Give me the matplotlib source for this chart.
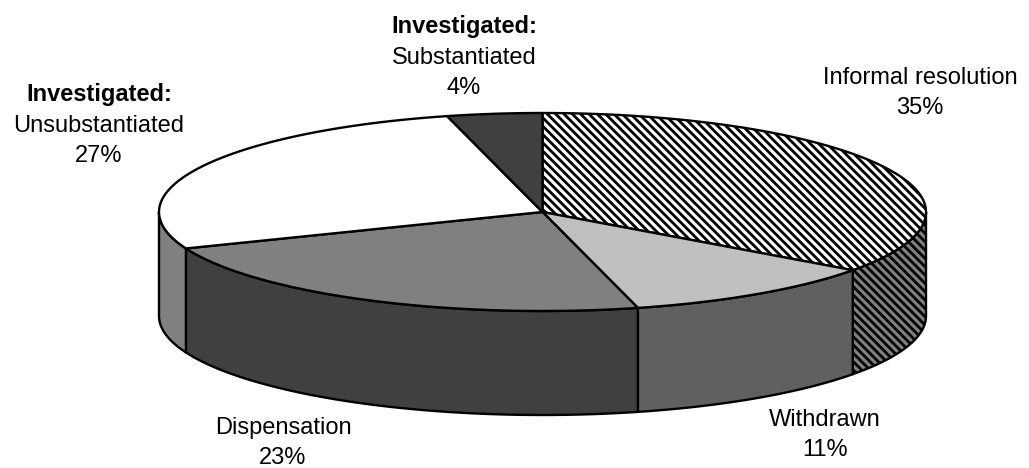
import numpy as np
import matplotlib
matplotlib.use("Agg")
import matplotlib.pyplot as plt
from matplotlib.patches import Polygon

# ===============================
# Data
# ===============================

labels = ["Informal resolution", "Withdrawn", "Dispensation",
          "Unsubstantiated", "Substantiated"]
prefix = ["", "", "", "Investigated:", "Investigated:"]
shares = [35, 11, 23, 27, 4]

top_colors = ["#ffffff", "#c0c0c0", "#808080", "#ffffff", "#404040"]
side_colors = ["#808080", "#606060", "#404040", "#808080", "#202020"]
hatches = ["\\\\\\\\", None, None, None, None]

# label text centres (pixels)
label_pos = [(920, 78), (825, 420), (283, 428), (99, 95), (464, 27)]

# ===============================
# Geometry of the 3D pie
# ===============================

cx, cy = 542.5, 212
ra, rb = 383.5, 99
depth = 104

plt.rcParams['font.family'] = ['Liberation Sans', 'DejaVu Sans']
plt.rcParams['hatch.linewidth'] = 2.0

fig = plt.figure(figsize=(10.29, 4.68), dpi=100)
ax = fig.add_axes([0, 0, 1, 1])
ax.set_xlim(0, 1029)
ax.set_ylim(468, 0)
ax.axis('off')


def arc(t1, t2, dy=0, n=80):
    t = np.radians(np.linspace(t1, t2, n))
    return np.column_stack([cx + ra * np.sin(t), cy - rb * np.cos(t) + dy])


bounds = np.concatenate([[0], np.cumsum(shares)]) / sum(shares) * 360

# side walls (only front half visible: 90..270 deg)
for i in range(len(shares)):
    t1 = max(bounds[i], 90)
    t2 = min(bounds[i + 1], 270)
    if t2 <= t1:
        continue
    pts = np.vstack([arc(t1, t2), arc(t2, t1, depth)])
    ax.add_patch(Polygon(pts, closed=True, facecolor=side_colors[i],
                         edgecolor='black', linewidth=1.7,
                         hatch=hatches[i], joinstyle='round'))

# top faces
for i in range(len(shares)):
    pts = np.vstack([[cx, cy], arc(bounds[i], bounds[i + 1])])
    ax.add_patch(Polygon(pts, closed=True, facecolor=top_colors[i],
                         edgecolor='black', linewidth=1.7,
                         hatch=hatches[i], joinstyle='round'))

# ===============================
# Labels
# ===============================

fs = 17
step = 30.5
for i in range(len(shares)):
    x, y = label_pos[i]
    if prefix[i]:
        ax.text(x, y, prefix[i], ha='center', va='center',
                fontsize=fs, fontweight='bold')
        y += step
    ax.text(x, y, labels[i], ha='center', va='center', fontsize=fs)
    ax.text(x, y + step, f"{shares[i]}%", ha='center', va='center',
            fontsize=fs)

fig.savefig("out.png", dpi=100)
